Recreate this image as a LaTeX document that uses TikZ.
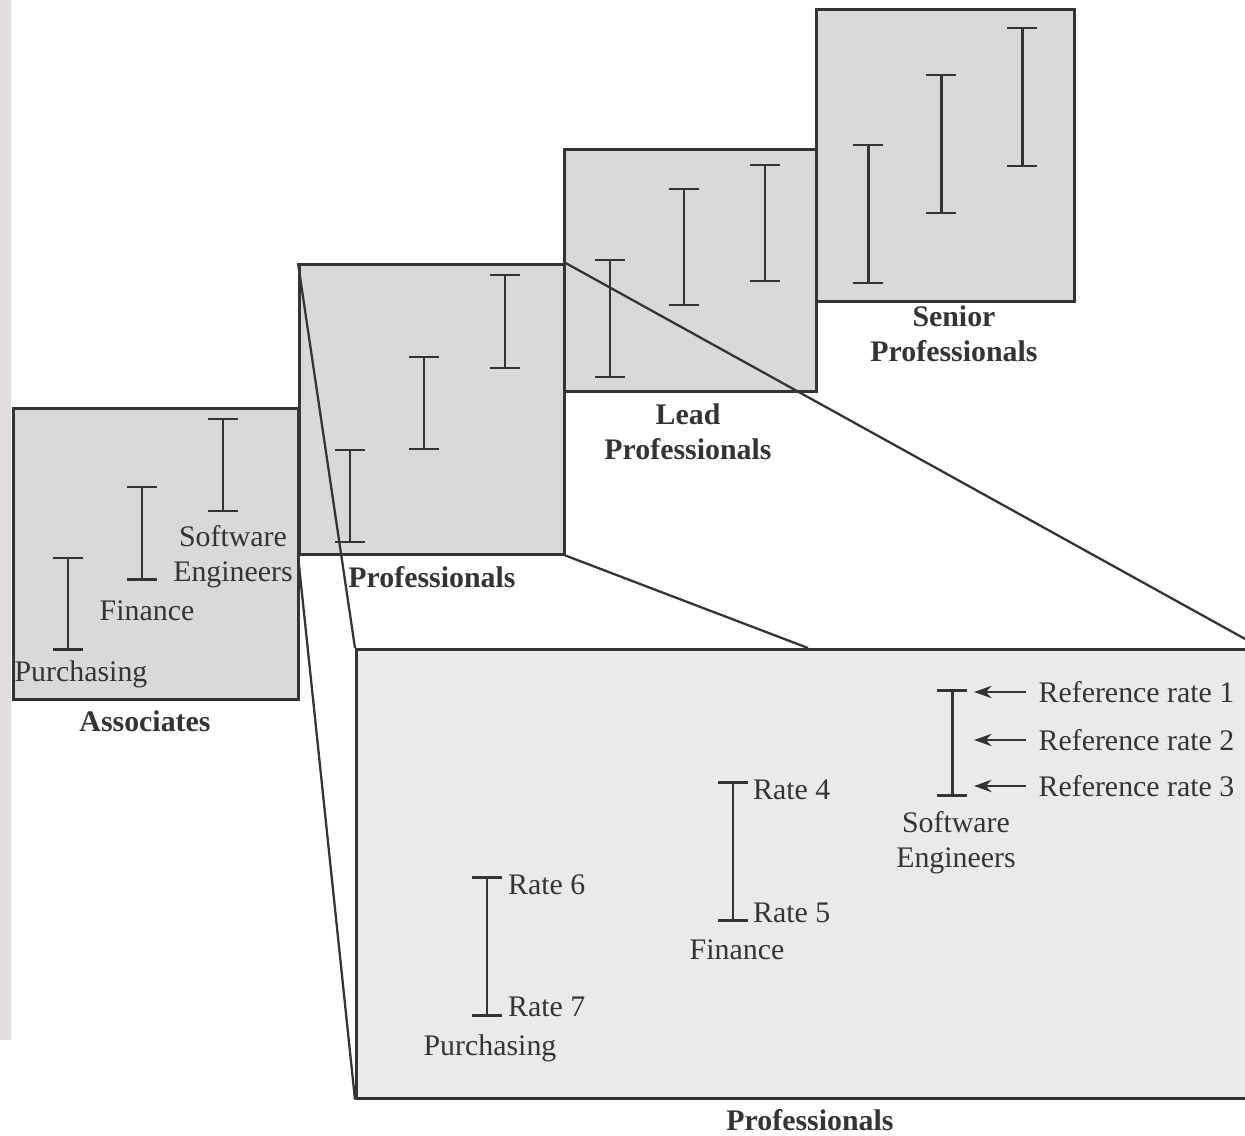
\documentclass[tikz,border=0pt]{standalone}
\usepackage{fontspec}
\setmainfont{Liberation Serif}
\definecolor{inkgray}{RGB}{52,52,52}
\definecolor{tiergray}{RGB}{217,217,217}
\definecolor{zoomgray}{RGB}{234,234,234}
\definecolor{stripgray}{RGB}{226,222,222}
\usetikzlibrary{arrows.meta,positioning}

\begin{document}
\begin{tikzpicture}[
		x=0.02cm, y=-0.02cm,
		tier/.style={draw=inkgray, line width=1.5pt, fill=tiergray, inner sep=0pt,
			anchor=north west},
		ibar/.style={draw=inkgray, line width=1.7pt},
		fan/.style={draw=inkgray, line width=1.3pt},
		lbl/.style={text=inkgray, font=\fontsize{17pt}{20pt}\selectfont, inner sep=1pt, align=center},
		ttl/.style={lbl, font=\fontsize{17pt}{20pt}\selectfont\bfseries},
		rarr/.style={-{Stealth[length=10pt,width=7pt]}, line width=1.2pt, inkgray}
	]
	\useasboundingbox (0,0) rectangle (1245,1136);
	\fill[stripgray] (0,0) rectangle (11,1040);
	% salary tiers
	\node[tier, minimum width=5.70cm, minimum height=5.82cm] (assoc) at (12,407) {};
	\node[tier, minimum width=5.30cm, minimum height=5.80cm] (pro) at (298,263) {};
	\node[tier, minimum width=5.04cm, minimum height=4.84cm] (lead) at (563,148) {};
	\node[tier, minimum width=5.16cm, minimum height=5.84cm] (senior) at (815,8) {};
	% enlarged view of the professionals tier
	\node[tier, fill=zoomgray, minimum width=18.08cm, minimum height=8.98cm] (zoom) at (355,648) {};
	\coordinate (ztop) at (808,648);
	\draw[fan] (pro.north west) -- (zoom.north west);
	\draw[fan] (pro.south west) -- (zoom.south west);
	\draw[fan] (pro.north east) -- (zoom.north east);
	\draw[fan] (pro.south east) -- (ztop);
	% rate ranges
	\foreach \x/\t/\b in {68/558/649, 142/487/579, 223/419/511,
		350/450/542, 424/357/449, 505/275/368,
		610/260/377, 684/189/305, 765/165/281,
		868/145/283, 941/75/213, 1022/28/166,
		952/690/795, 733/782/920, 487/877/1015}
	{
		\draw[ibar] (\x-15,\t) -- (\x+15,\t) (\x,\t) -- (\x,\b) (\x-15,\b) -- (\x+15,\b);
	}
	% tier labels
	\node[lbl] (apur) at (81,674) {Purchasing};
	\node[lbl] (afin) at (147,611) {Finance};
	\node[lbl] (asw) at (233,557) {Software\\Engineers};
	\node[ttl] (tassoc) at (145,721) {Associates};
	\node[ttl] (tpro) at (432,577) {Professionals};
	\node[ttl] (tlead) at (688,432) {Lead\\Professionals};
	\node[ttl] (tsenior) at (954,334) {Senior\\Professionals};
	% labels in the enlarged view
	\node[lbl, inner sep=7pt, anchor=west] (ref1) at (1026,692) {Reference rate 1};
	\node[lbl, inner sep=7pt, anchor=west] (ref2) at (1026,740) {Reference rate 2};
	\node[lbl, inner sep=7pt, anchor=west] (ref3) at (1026,786) {Reference rate 3};
	\coordinate (r1) at (974,692);
	\coordinate (r2) at (974,740);
	\coordinate (r3) at (974,786);
	\draw[rarr] (ref1.west) -- (r1);
	\draw[rarr] (ref2.west) -- (r2);
	\draw[rarr] (ref3.west) -- (r3);
	\node[lbl] (zsw) at (956,843) {Software\\Engineers};
	\node[lbl, anchor=west] (rate4) at (751,790) {Rate 4};
	\node[lbl, anchor=west] (rate5) at (751,913) {Rate 5};
	\node[lbl] (zfin) at (737,950) {Finance};
	\node[lbl, anchor=west] (rate6) at (506,885) {Rate 6};
	\node[lbl, anchor=west] (rate7) at (506,1007) {Rate 7};
	\node[lbl] (zpur) at (490,1048) {Purchasing};
	\node[ttl] (tzoom) at (810,1120) {Professionals};
\end{tikzpicture}
\end{document}
